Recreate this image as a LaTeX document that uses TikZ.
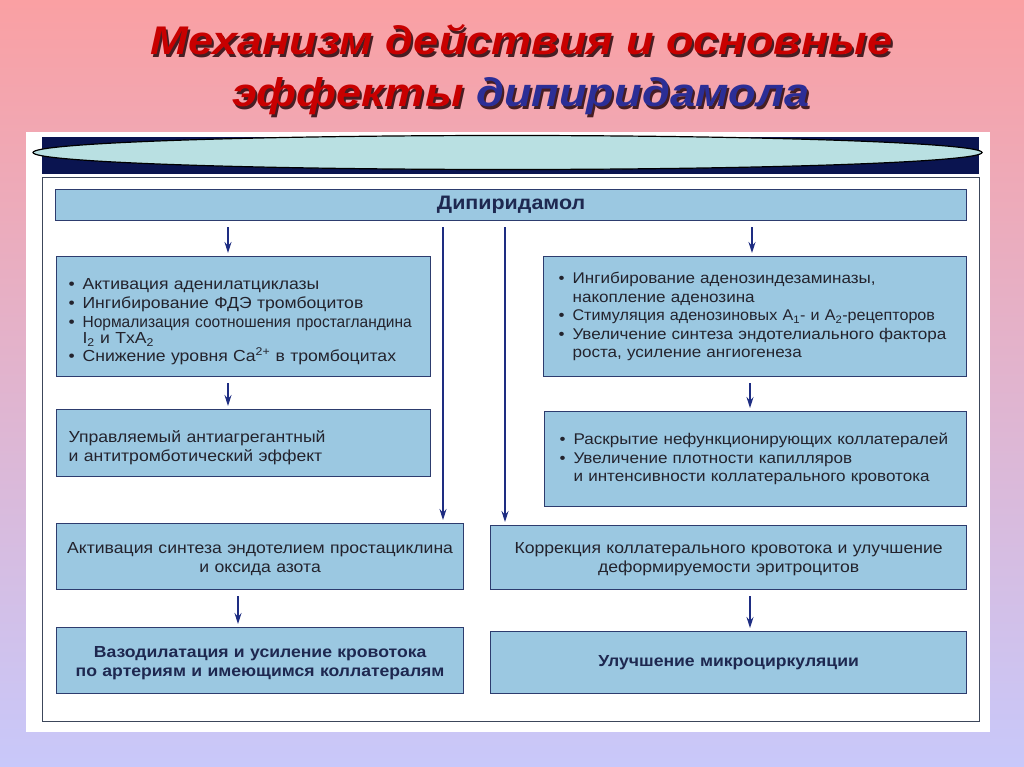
\documentclass[tikz,border=0pt]{standalone}
\usepackage{fontspec}
\setmainfont{Liberation Sans}
\newfontfamily\bodyfont{Liberation Sans}[FakeStretch=1.1]
\newfontfamily\titlefont{Liberation Sans}[FakeStretch=1.13]
\usetikzlibrary{arrows.meta}
\definecolor{bgtop}{RGB}{250,160,163}
\definecolor{bgbot}{RGB}{200,200,250}
\definecolor{titred}{RGB}{200,0,0}
\definecolor{titblue}{RGB}{43,46,150}
\definecolor{titshadow}{RGB}{70,30,35}
\definecolor{bandnavy}{RGB}{10,20,80}
\definecolor{ellfill}{RGB}{185,224,226}
\definecolor{boxfill}{RGB}{155,200,225}
\definecolor{boxborder}{RGB}{45,60,110}
\definecolor{txt}{RGB}{35,35,45}
\definecolor{boldtxt}{RGB}{30,40,80}
\definecolor{arrowc}{RGB}{30,45,130}
\definecolor{framec}{RGB}{60,70,90}
\newcommand{\bul}{\makebox[14pt][l]{\textbullet}}
\newcommand{\ind}{\hspace*{14pt}}
\newcommand{\topgap}[1]{\rule{0pt}{#1}}
\newcommand{\shad}[2]{\makebox[0pt][l]{\hspace*{2pt}\raisebox{-2.5pt}{\textcolor{titshadow}{#1}}}#2}
\begin{document}
\begin{tikzpicture}[x=1pt,y=-1pt,
  box/.style={draw=boxborder, fill=boxfill, line width=1.2pt, anchor=north west,
    inner ysep=0pt, text=txt, font=\bodyfont\fontsize{16}{19}\selectfont},
  rbox/.style={box, font=\bodyfont\fontsize{15.5}{18.5}\selectfont},
  boldbox/.style={box, text=boldtxt, font=\bodyfont\bfseries\fontsize{16}{19}\selectfont},
  arr/.style={draw=arrowc, line width=1.1pt, -{Stealth[length=11pt,width=7pt]},
    shorten <=6pt, shorten >=3pt},
  title/.style={anchor=base, font=\titlefont\bfseries\itshape\fontsize{40}{46}\selectfont}
]
\useasboundingbox (0,0) rectangle (1024,767);
\shade[top color=bgtop, bottom color=bgbot] (0,0) rectangle (1024,767);

% title with shadow
\node[title] (t1) at (521.5,55)
  {\shad{Механизм действия и основные}{\textcolor{titred}{Механизм действия и основные}}};
\node[title] (t2) at (521,107)
  {\shad{эффекты дипиридамола}{\textcolor{titred}{эффекты} \textcolor{titblue}{дипиридамола}}};

% panel
\fill[white] (26,132) rectangle (990,732);
\fill[bandnavy] (42,137) rectangle (979,174);
\draw[fill=ellfill, draw=black, line width=1.2pt] (507.5,152.5) ellipse [x radius=474.5, y radius=17];
\draw[framec, line width=1pt] (42,178) rectangle (979,721);

% boxes
\node[boldbox, font=\bodyfont\bfseries\fontsize{19.5}{22}\selectfont, minimum width=911pt, minimum height=31pt] (dip) at (55,189) {Дипиридамол};

\node[box, minimum width=374pt, minimum height=120pt, inner xsep=12pt, text width=350pt, align=left] (l1) at (56,256)
 {\topgap{22pt}\bul Активация аденилатциклазы\\
  \bul Ингибирование ФДЭ тромбоцитов\\
  \bul {\addfontfeature{FakeStretch=0.97}Нормализация соотношения простагландина}\\[-3pt]
  \ind I\textsubscript{2} и TxA\textsubscript{2}\\[-1pt]
  \bul Снижение уровня Ca\textsuperscript{2+} в тромбоцитах};

\node[rbox, minimum width=423pt, minimum height=120pt, inner xsep=15pt, text width=393pt, align=left] (r1) at (543,256)
 {\mbox{\bul Ингибирование аденозиндезаминазы,}\\
  \mbox{\ind накопление аденозина}\\
  \mbox{\bul {\addfontfeature{FakeStretch=1.04}Стимуляция аденозиновых A\textsubscript{1}- и A\textsubscript{2}-рецепторов}}\\
  \mbox{\bul Увеличение синтеза эндотелиального фактора}\\
  \mbox{\ind роста, усиление ангиогенеза}};

\node[box, minimum width=374pt, minimum height=67pt, inner xsep=12pt, text width=350pt, align=left] (l2) at (56,409)
 {\topgap{21pt}Управляемый антиагрегантный\\ и антитромботический эффект};

\node[rbox, minimum width=422pt, minimum height=95pt, inner xsep=15pt, text width=392pt, align=left] (r2) at (544,411)
 {\mbox{\bul Раскрытие нефункционирующих коллатералей}\\
  \mbox{\bul Увеличение плотности капилляров}\\
  \mbox{\ind и интенсивности коллатерального кровотока}};

\node[box, minimum width=407pt, minimum height=66pt, inner xsep=8pt, text width=391pt, align=center] (l3) at (56,523)
 {\topgap{16pt}Активация синтеза эндотелием простациклина\\ и оксида азота};

\node[box, minimum width=476pt, minimum height=64pt, inner xsep=8pt, text width=460pt, align=center] (r3) at (490,525)
 {\topgap{15pt}Коррекция коллатерального кровотока и улучшение\\ деформируемости эритроцитов};

\node[boldbox, minimum width=407pt, minimum height=66pt, inner xsep=8pt, text width=391pt, align=center] (l4) at (56,627)
 {\topgap{17pt}Вазодилатация и усиление кровотока\\ по артериям и имеющимся коллатералям};

\node[boldbox, minimum width=476pt, minimum height=62pt, inner xsep=8pt, text width=460pt, align=center] (r4) at (490,631)
 {Улучшение микроциркуляции};

% connectors
\draw[arr] (228,0 |- dip.south) -- (228,0 |- l1.north);
\draw[arr] (443,0 |- dip.south) -- (443,0 |- l3.north);
\draw[arr] (505,0 |- dip.south) -- (505,0 |- r3.north);
\draw[arr] (752,0 |- dip.south) -- (752,0 |- r1.north);
\draw[arr] (228,0 |- l1.south) -- (228,0 |- l2.north);
\draw[arr] (750,0 |- r1.south) -- (750,0 |- r2.north);
\draw[arr] (238,0 |- l3.south) -- (238,0 |- l4.north);
\draw[arr] (750,0 |- r3.south) -- (750,0 |- r4.north);
\end{tikzpicture}
\end{document}
